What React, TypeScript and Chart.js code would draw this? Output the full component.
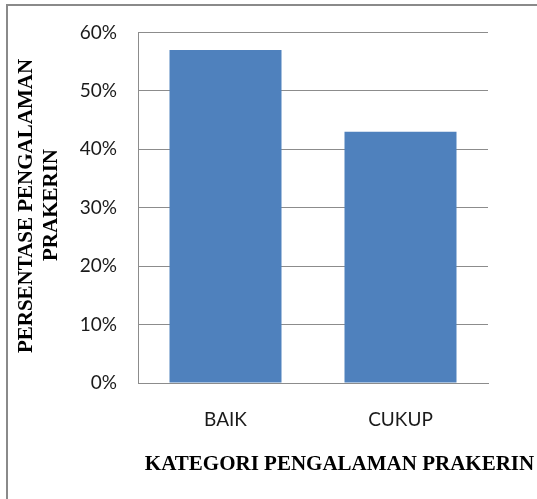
import React, { useEffect, useRef } from "react";
import { Chart, registerables } from "chart.js";

Chart.register(...registerables);

const categories = ["BAIK", "CUKUP"];
const percentValues = [0.57, 0.43];
const yTickMax = 0.6;
const yTickStep = 0.1;
const xTitle = "KATEGORI PENGALAMAN PRAKERIN";
const yTitleLines = ["PERSENTASE PENGALAMAN", "PRAKERIN"];

const titlePlugin = {
  id: "customAxisTitles",
  afterDraw(chart: any) {
    const { ctx } = chart;
    ctx.save();
    ctx.fillStyle = "#000000";
    ctx.font = 'bold 21px "Liberation Serif", "Times New Roman", serif';
    ctx.textAlign = "center";
    ctx.textBaseline = "alphabetic";
    ctx.fillText(xTitle, 339.5, 470, 391);
    ctx.save();
    ctx.translate(32, 206);
    ctx.rotate(-Math.PI / 2);
    ctx.fillText(yTitleLines[0], 0, 0, 298);
    ctx.restore();
    ctx.save();
    ctx.translate(57, 205);
    ctx.rotate(-Math.PI / 2);
    ctx.fillText(yTitleLines[1], 0, 0, 118);
    ctx.restore();
    ctx.restore();
  },
};

export default function App() {
  const canvasRef = useRef<HTMLCanvasElement | null>(null);

  useEffect(() => {
    if (!canvasRef.current) return;
    const chart = new Chart(canvasRef.current, {
      type: "bar",
      data: {
        labels: categories,
        datasets: [
          {
            data: percentValues,
            backgroundColor: "#4F81BD",
            borderWidth: 0,
            barPercentage: 0.64,
            categoryPercentage: 1,
          },
        ],
      },
      options: {
        responsive: false,
        animation: false,
        layout: { padding: { left: 0, right: 49, top: 31, bottom: 0 } },
        plugins: {
          legend: { display: false },
          tooltip: { enabled: false },
        },
        scales: {
          x: {
            grid: { display: false, drawTicks: false },
            border: { display: true, color: "#8c8c8c", width: 1 },
            ticks: {
              color: "#1a1a1a",
              font: { family: "Lato", size: 19 },
              padding: 25,
            },
            afterFit(scale: any) {
              scale.height = 116;
            },
          },
          y: {
            min: 0,
            max: yTickMax,
            grid: { color: "#8c8c8c", lineWidth: 1, drawTicks: false },
            border: { display: true, color: "#8c8c8c", width: 1 },
            ticks: {
              stepSize: yTickStep,
              color: "#1a1a1a",
              font: { family: "Lato", size: 19 },
              padding: 21,
              callback: (v: any) => Math.round(Number(v) * 100) + "%",
            },
            afterFit(scale: any) {
              scale.width = 138;
            },
          },
        },
      },
      plugins: [titlePlugin],
    });
    return () => chart.destroy();
  }, []);

  return (
    <div
      style={{
        position: "fixed",
        left: 0,
        top: 0,
        width: 537,
        height: 499,
        background: "#ffffff",
        overflow: "hidden",
      }}
    >
      <canvas ref={canvasRef} width={537} height={499} style={{ display: "block" }} />
      <div
        style={{
          position: "absolute",
          left: 6,
          top: 4,
          width: 600,
          height: 600,
          border: "2px solid #8a8a8a",
          pointerEvents: "none",
        }}
      />
    </div>
  );
}
